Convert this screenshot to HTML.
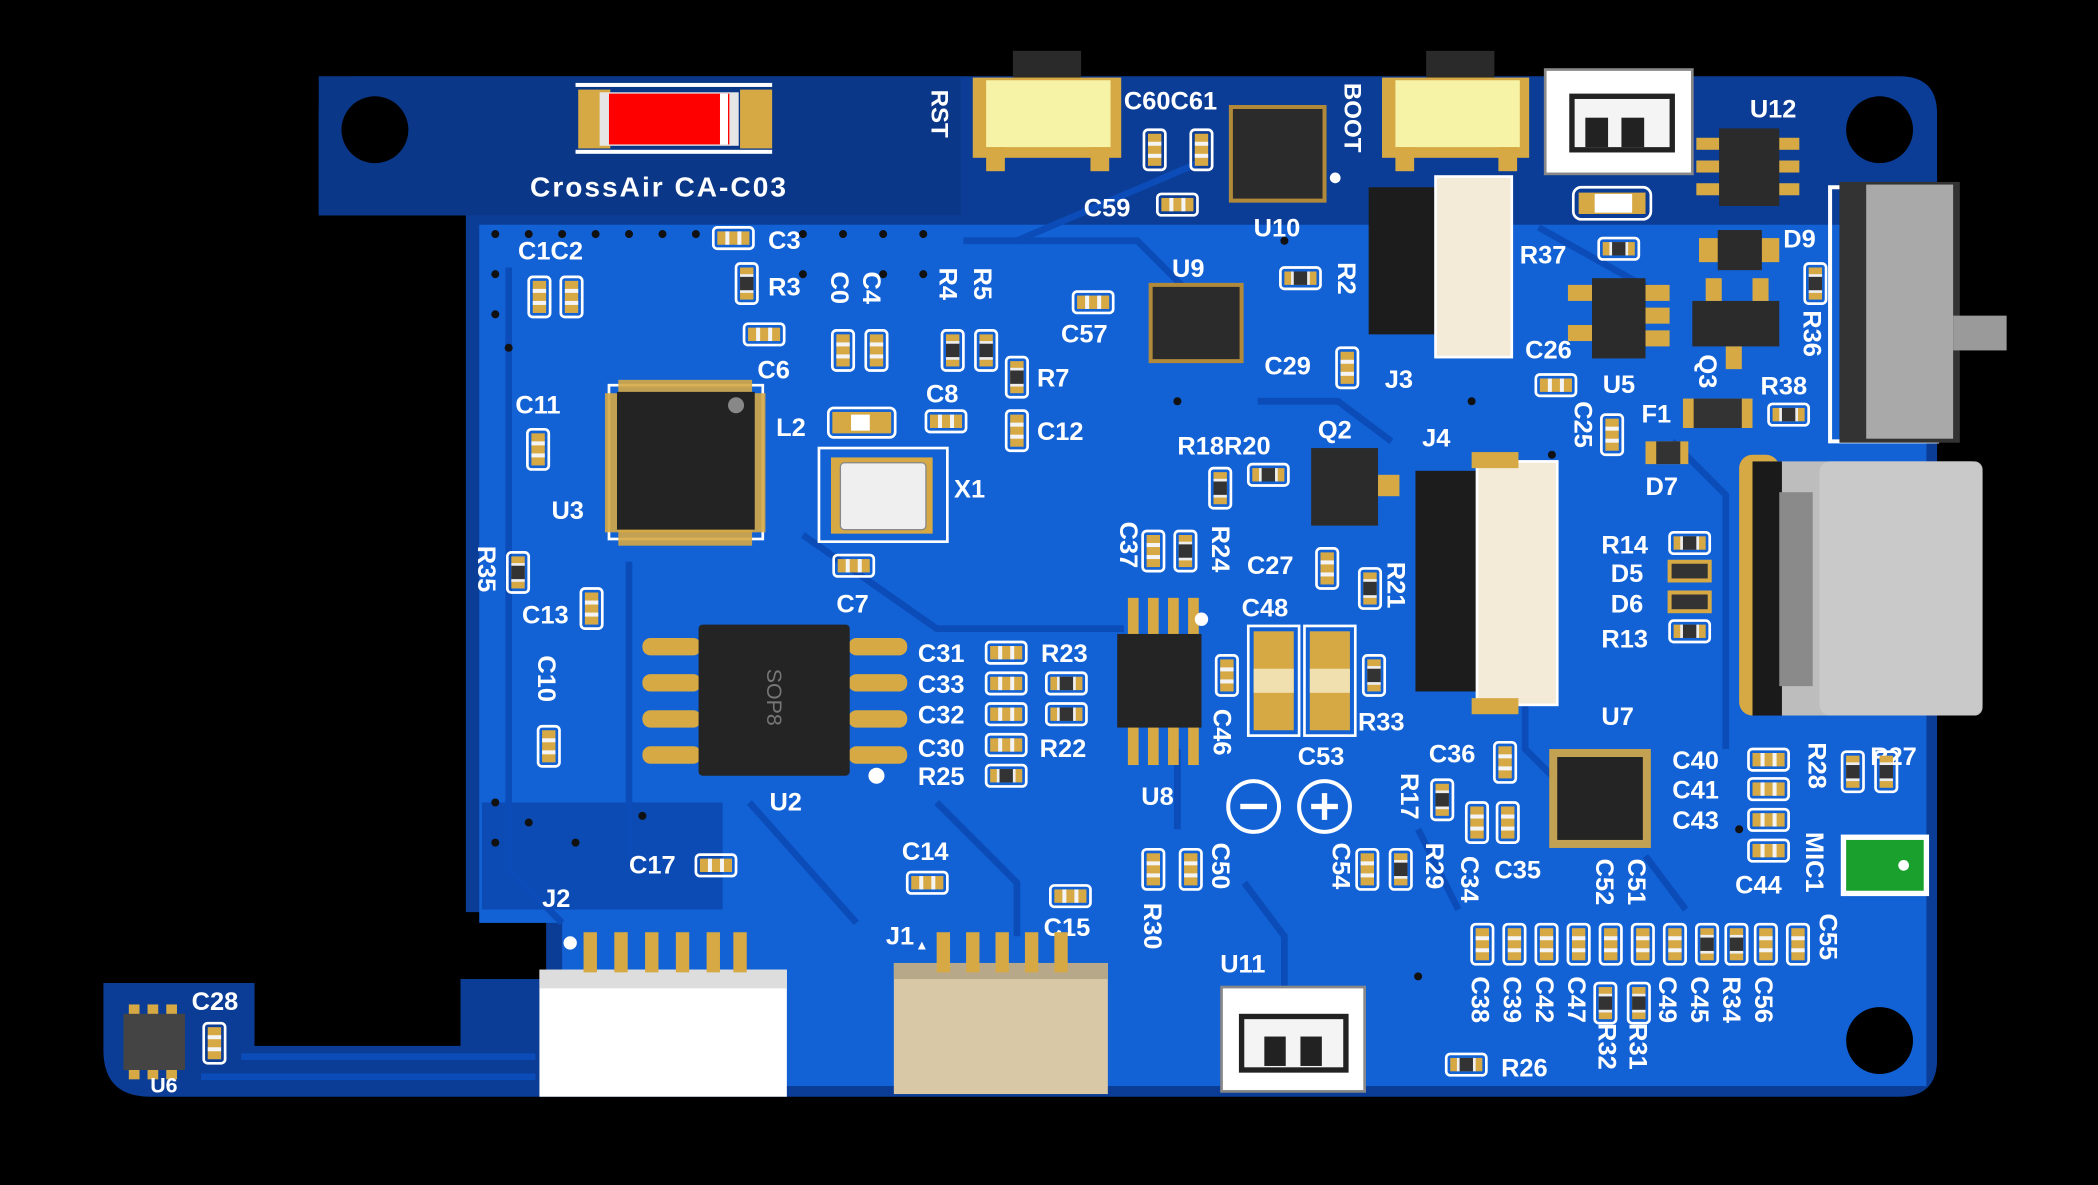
<!DOCTYPE html>
<html><head><meta charset="utf-8"><style>
html,body{margin:0;padding:0;background:#000;overflow:hidden}
svg{display:block}
text{font-family:"Liberation Sans",sans-serif;font-weight:bold;fill:#fff;font-size:19px}
</style></head><body>
<svg width="2098" height="1185" viewBox="0 0 1568 886" xmlns="http://www.w3.org/2000/svg">
<defs>
<g id="cv"><rect x="-8" y="-15" width="16" height="30" rx="3" fill="none" stroke="#fff" stroke-width="2"/><rect x="-5" y="-12" width="10" height="24" fill="#d6a944"/><rect x="-5" y="-6" width="10" height="3" fill="#f4f4f4"/><rect x="-5" y="3" width="10" height="3" fill="#f4f4f4"/></g>
<g id="rv"><rect x="-8" y="-15" width="16" height="30" rx="3" fill="none" stroke="#fff" stroke-width="2"/><rect x="-5" y="-12" width="10" height="24" fill="#d6a944"/><rect x="-5" y="-6" width="10" height="12" fill="#333"/><rect x="-5" y="-7" width="10" height="2" fill="#eee"/><rect x="-5" y="5" width="10" height="2" fill="#eee"/></g>
<g id="chip"><rect x="-1" y="-1" width="2" height="2" fill="#d6a944"/></g>
</defs>
<rect width="1568" height="886" fill="#000"/>
<!-- board -->
<path d="M266 57 H1420 Q1448 57 1448 85 V792 Q1448 820 1420 820 H112 Q77 820 77 785 V735 H190 V782 H344 V732 H408 V682 H348 V161 H238 V85 Q238 57 266 57 Z" fill="#0b3d96"/>
<path d="M358 168 H1440 V812 H420 V690 H358 Z" fill="#1262d6"/>
<rect x="238" y="57" width="480" height="104" fill="#0a3787"/>
<rect x="360" y="600" width="180" height="80" fill="#0c4bb3"/>
<!-- traces -->
<g fill="none" stroke="#0b4cb8" stroke-width="5">
<path d="M380 200 V650 L420 690"/><path d="M470 420 L470 640"/><path d="M600 400 L700 470 L840 470"/><path d="M700 600 L760 660 L760 700"/>
<path d="M720 180 L850 180 L900 230"/><path d="M940 300 L1000 300 L1040 330"/><path d="M1140 380 L1140 560 L1160 580"/><path d="M1250 330 L1290 370 V560"/>
<path d="M560 600 L640 690"/><path d="M880 560 L880 620"/><path d="M930 660 L960 700 V740"/><path d="M180 790 H400"/><path d="M150 805 H400"/>
<path d="M1060 620 L1090 680"/><path d="M1230 640 L1260 680"/><path d="M1360 420 L1360 520"/><path d="M760 180 L900 120"/><path d="M1150 170 L1240 220"/>
</g>
<!-- vias -->
<g fill="#111">
<circle cx="370" cy="175" r="3"/><circle cx="395" cy="175" r="3"/><circle cx="420" cy="175" r="3"/><circle cx="445" cy="175" r="3"/><circle cx="470" cy="175" r="3"/><circle cx="495" cy="175" r="3"/><circle cx="520" cy="175" r="3"/><circle cx="600" cy="175" r="3"/><circle cx="630" cy="175" r="3"/><circle cx="660" cy="175" r="3"/><circle cx="690" cy="175" r="3"/>
<circle cx="370" cy="205" r="3"/><circle cx="370" cy="235" r="3"/><circle cx="380" cy="260" r="3"/><circle cx="600" cy="205" r="3"/><circle cx="660" cy="205" r="3"/><circle cx="690" cy="205" r="3"/>
<circle cx="370" cy="600" r="3"/><circle cx="370" cy="630" r="3"/><circle cx="395" cy="615" r="3"/><circle cx="430" cy="630" r="3"/><circle cx="480" cy="610" r="3"/>
<circle cx="960" cy="180" r="3"/><circle cx="1100" cy="300" r="3"/><circle cx="1160" cy="340" r="3"/><circle cx="1300" cy="620" r="3"/><circle cx="1060" cy="730" r="3"/><circle cx="880" cy="300" r="3"/>
</g>
<!-- holes -->
<circle cx="280" cy="97" r="25" fill="#000"/><circle cx="1405" cy="97" r="25" fill="#000"/><circle cx="1405" cy="778" r="25" fill="#000"/>
<!-- fuse/led top -->
<rect x="430" y="62" width="147" height="3" fill="#fff"/><rect x="430" y="112" width="147" height="3" fill="#fff"/>
<rect x="432" y="67" width="24" height="44" fill="#d6a944"/><rect x="553" y="67" width="24" height="44" fill="#d6a944"/>
<rect x="448" y="69" width="104" height="40" fill="#e6e6e6"/><rect x="455" y="70" width="90" height="38" fill="#f00"/><rect x="538" y="70" width="6" height="38" fill="#fff"/>
<text x="396" y="147" style="font-size:21px;letter-spacing:1.5px">CrossAir CA-C03</text>
<!-- RST button -->
<rect x="757" y="38" width="51" height="22" fill="#2a2a2a"/>
<rect x="727" y="58" width="111" height="60" fill="#d6a944"/><rect x="737" y="60" width="93" height="50" fill="#f7f3a6"/>
<rect x="737" y="110" width="14" height="18" fill="#d6a944"/><rect x="815" y="110" width="14" height="18" fill="#d6a944"/>
<text transform="translate(696,67) rotate(90)" style="font-size:18px">RST</text>
<!-- BOOT -->
<rect x="1066" y="38" width="51" height="22" fill="#2a2a2a"/>
<rect x="1033" y="58" width="110" height="60" fill="#d6a944"/><rect x="1043" y="60" width="93" height="50" fill="#f7f3a6"/>
<rect x="1043" y="110" width="14" height="18" fill="#d6a944"/><rect x="1120" y="110" width="14" height="18" fill="#d6a944"/>
<text transform="translate(1005,62) rotate(90)" style="font-size:18px">BOOT</text>
<!-- C60 C61 U10 -->
<text x="840" y="82">C60C61</text>
<use href="#cv" transform="translate(863,112)"/><use href="#cv" transform="translate(898,112)"/>
<rect x="920" y="80" width="70" height="70" fill="#2b2b2b" stroke="#b08a3a" stroke-width="3"/>
<circle cx="998" cy="133" r="4" fill="#fff"/>
<text x="937" y="177">U10</text>
<text x="810" y="162">C59</text><use href="#cv" transform="translate(880,153) rotate(90)"/>
<!-- JST white top -->
<rect x="1155" y="52" width="110" height="78" fill="#fff" stroke="#888" stroke-width="2"/>
<rect x="1175" y="72" width="75" height="40" fill="#f4f4f4" stroke="#222" stroke-width="4"/>
<rect x="1185" y="88" width="17" height="22" fill="#222"/><rect x="1212" y="88" width="17" height="22" fill="#222"/>
<!-- U12 -->
<text x="1308" y="88">U12</text>
<rect x="1268" y="103" width="18" height="9" fill="#d6a944"/><rect x="1268" y="120" width="18" height="9" fill="#d6a944"/><rect x="1268" y="137" width="18" height="9" fill="#d6a944"/>
<rect x="1327" y="103" width="18" height="9" fill="#d6a944"/><rect x="1327" y="120" width="18" height="9" fill="#d6a944"/><rect x="1327" y="137" width="18" height="9" fill="#d6a944"/>
<rect x="1285" y="96" width="45" height="58" fill="#2b2b2b"/>
<!-- small LED -->
<rect x="1176" y="140" width="58" height="24" rx="6" fill="none" stroke="#fff" stroke-width="2"/><rect x="1180" y="144" width="50" height="16" fill="#d6a944"/><rect x="1192" y="145" width="28" height="14" fill="#fff"/>
<text x="1136" y="197">R37</text><use href="#rv" transform="translate(1210,186) rotate(90)"/>
<text x="1333" y="185">D9</text><rect x="1270" y="178" width="60" height="18" fill="#d6a944"/><rect x="1284" y="172" width="33" height="30" fill="#2b2b2b"/>
<!-- J3 -->
<rect x="1023" y="140" width="55" height="110" fill="#1c1c1c"/>
<rect x="1073" y="132" width="57" height="135" fill="#f3ead8" stroke="#fff" stroke-width="2"/>
<text x="1035" y="290">J3</text>
<text transform="translate(1000,196) rotate(90)">R2</text><use href="#rv" transform="translate(972,208) rotate(90)"/>
<!-- U9 -->
<text x="876" y="207">U9</text><rect x="860" y="213" width="68" height="57" fill="#2b2b2b" stroke="#b08a3a" stroke-width="3"/>
<text x="793" y="256">C57</text><use href="#cv" transform="translate(817,226) rotate(90)"/>
<text x="945" y="280">C29</text><use href="#cv" transform="translate(1007,275)"/>
<!-- U5 -->
<rect x="1172" y="213" width="20" height="12" fill="#d6a944"/><rect x="1172" y="243" width="20" height="12" fill="#d6a944"/>
<rect x="1228" y="213" width="20" height="12" fill="#d6a944"/><rect x="1228" y="230" width="20" height="12" fill="#d6a944"/><rect x="1228" y="247" width="20" height="12" fill="#d6a944"/>
<rect x="1190" y="208" width="40" height="60" fill="#2b2b2b"/>
<text x="1140" y="268">C26</text><use href="#cv" transform="translate(1163,288) rotate(90)"/>
<text x="1198" y="294">U5</text>
<!-- Q3 -->
<rect x="1265" y="225" width="65" height="34" fill="#2b2b2b"/><rect x="1275" y="208" width="12" height="17" fill="#d6a944"/><rect x="1310" y="208" width="12" height="17" fill="#d6a944"/><rect x="1290" y="259" width="12" height="17" fill="#d6a944"/>
<text transform="translate(1270,265) rotate(90)">Q3</text>
<use href="#rv" transform="translate(1357,212)"/><text transform="translate(1348,232) rotate(90)">R36</text>
<text x="1316" y="295">R38</text><use href="#rv" transform="translate(1337,310) rotate(90)"/>
<text x="1227" y="316">F1</text><rect x="1258" y="298" width="52" height="22" fill="#d6a944"/><rect x="1266" y="298" width="36" height="22" fill="#333"/>
<text transform="translate(1177,300) rotate(90)">C25</text><use href="#cv" transform="translate(1205,325)"/>
<text x="1230" y="370">D7</text><rect x="1230" y="330" width="32" height="17" fill="#d6a944"/><rect x="1238" y="330" width="18" height="17" fill="#333"/>
<!-- switch -->
<rect x="1368" y="140" width="80" height="190" fill="none" stroke="#fff" stroke-width="3"/>
<rect x="1375" y="136" width="90" height="195" fill="#333"/><rect x="1395" y="138" width="65" height="190" fill="#a9a9a9"/>
<rect x="1460" y="236" width="40" height="26" fill="#9a9a9a"/>
<!-- USB-C -->
<rect x="1300" y="340" width="30" height="195" rx="10" fill="#d6a944"/>
<rect x="1310" y="345" width="172" height="190" rx="6" fill="#bdbdbd"/>
<rect x="1310" y="345" width="22" height="190" fill="#1a1a1a"/>
<rect x="1330" y="368" width="25" height="145" fill="#8a8a8a"/>
<rect x="1360" y="345" width="122" height="190" rx="8" fill="#c9c9c9"/>
<!-- R14 D5 D6 R13 -->
<text x="1197" y="414">R14</text><text x="1204" y="435">D5</text><text x="1204" y="458">D6</text><text x="1197" y="484">R13</text>
<use href="#rv" transform="translate(1263,406) rotate(90)"/><rect x="1248" y="420" width="30" height="14" fill="#333" stroke="#d6a944" stroke-width="3"/><rect x="1248" y="443" width="30" height="14" fill="#333" stroke="#d6a944" stroke-width="3"/><use href="#rv" transform="translate(1263,472) rotate(90)"/>
<!-- J4 -->
<text x="1063" y="334">J4</text>
<rect x="1058" y="352" width="50" height="165" fill="#1c1c1c"/>
<rect x="1104" y="345" width="60" height="182" fill="#f3ead8" stroke="#fff" stroke-width="2"/>
<rect x="1100" y="338" width="35" height="12" fill="#d6a944"/><rect x="1100" y="522" width="35" height="12" fill="#d6a944"/>
<!-- Q2 -->
<text x="985" y="328">Q2</text><rect x="980" y="335" width="50" height="58" fill="#2b2b2b"/><rect x="1030" y="355" width="16" height="16" fill="#d6a944"/>
<text x="880" y="340">R18R20</text><use href="#rv" transform="translate(912,365)"/><use href="#rv" transform="translate(948,355) rotate(90)"/>
<!-- left side -->
<text x="387" y="194">C1C2</text><use href="#cv" transform="translate(403,222)"/><use href="#cv" transform="translate(427,222)"/>
<text x="574" y="186">C3</text><use href="#cv" transform="translate(548,178) rotate(90)"/>
<text x="574" y="221">R3</text><use href="#rv" transform="translate(558,212)"/>
<text x="566" y="283">C6</text><use href="#cv" transform="translate(571,250) rotate(90)"/>
<text transform="translate(621,203) rotate(90)">C0</text><text transform="translate(645,203) rotate(90)">C4</text>
<use href="#cv" transform="translate(630,262)"/><use href="#cv" transform="translate(655,262)"/>
<text transform="translate(702,200) rotate(90)">R4</text><text transform="translate(728,200) rotate(90)">R5</text>
<use href="#rv" transform="translate(712,262)"/><use href="#rv" transform="translate(737,262)"/>
<text x="775" y="289">R7</text><use href="#rv" transform="translate(760,282)"/>
<text x="775" y="329">C12</text><use href="#cv" transform="translate(760,322)"/>
<text x="692" y="301">C8</text><use href="#cv" transform="translate(707,315) rotate(90)"/>
<text x="580" y="326">L2</text><rect x="619" y="305" width="50" height="22" rx="4" fill="none" stroke="#fff" stroke-width="2"/><rect x="622" y="308" width="44" height="16" fill="#d6a944"/><rect x="636" y="310" width="14" height="12" fill="#fff"/>
<rect x="612" y="335" width="96" height="70" fill="none" stroke="#fff" stroke-width="2"/><rect x="621" y="342" width="76" height="57" fill="#d6a944"/><rect x="628" y="346" width="64" height="50" rx="3" fill="#efefef" stroke="#888"/>
<text x="713" y="372">X1</text>
<text x="625" y="458">C7</text><use href="#cv" transform="translate(638,423) rotate(90)"/>
<rect x="455" y="288" width="115" height="115" fill="none" stroke="#fff" stroke-width="2"/>
<rect x="452" y="294" width="120" height="104" fill="#d6a944" opacity=".9"/><rect x="462" y="284" width="100" height="124" fill="#d6a944" opacity=".9"/>
<rect x="461" y="293" width="103" height="103" fill="#232323"/><circle cx="550" cy="303" r="6" fill="#888"/>
<text x="412" y="388">U3</text>
<text x="385" y="309">C11</text><use href="#cv" transform="translate(402,336)"/>
<text transform="translate(357,408) rotate(90)">R35</text><use href="#rv" transform="translate(387,428)"/>
<text x="390" y="466">C13</text><use href="#cv" transform="translate(442,455)"/>
<text transform="translate(402,490) rotate(90)">C10</text><use href="#cv" transform="translate(410,558)"/>
<!-- U2 SOP8 -->
<g fill="#d6a944"><rect x="480" y="477" width="44" height="13" rx="6"/><rect x="480" y="504" width="44" height="13" rx="6"/><rect x="480" y="531" width="44" height="13" rx="6"/><rect x="480" y="558" width="44" height="13" rx="6"/>
<rect x="634" y="477" width="44" height="13" rx="6"/><rect x="634" y="504" width="44" height="13" rx="6"/><rect x="634" y="531" width="44" height="13" rx="6"/><rect x="634" y="558" width="44" height="13" rx="6"/></g>
<rect x="522" y="467" width="113" height="113" rx="3" fill="#242424"/>
<text transform="translate(573,500) rotate(90)" style="font-size:16px;font-weight:normal;fill:#777">SOP8</text>
<circle cx="655" cy="580" r="6" fill="#fff"/>
<text x="575" y="606">U2</text>
<text x="686" y="495">C31</text><text x="686" y="518">C33</text><text x="686" y="541">C32</text><text x="686" y="566">C30</text><text x="686" y="587">R25</text>
<use href="#cv" transform="translate(752,488) rotate(90)"/><use href="#cv" transform="translate(752,511) rotate(90)"/><use href="#cv" transform="translate(752,534) rotate(90)"/><use href="#cv" transform="translate(752,557) rotate(90)"/><use href="#rv" transform="translate(752,580) rotate(90)"/>
<text x="778" y="495">R23</text><text x="777" y="566">R22</text>
<use href="#rv" transform="translate(797,511) rotate(90)"/><use href="#rv" transform="translate(797,534) rotate(90)"/>
<!-- U8 -->
<g fill="#d6a944"><rect x="843" y="447" width="8" height="30"/><rect x="858" y="447" width="8" height="30"/><rect x="873" y="447" width="8" height="30"/><rect x="888" y="447" width="8" height="30"/>
<rect x="843" y="542" width="8" height="30"/><rect x="858" y="542" width="8" height="30"/><rect x="873" y="542" width="8" height="30"/><rect x="888" y="542" width="8" height="30"/></g>
<rect x="835" y="474" width="63" height="70" fill="#242424"/><circle cx="898" cy="463" r="5" fill="#fff"/>
<text x="853" y="602">U8</text>
<text transform="translate(837,390) rotate(90)">C37</text><use href="#cv" transform="translate(862,412)"/>
<text transform="translate(906,393) rotate(90)">R24</text><use href="#rv" transform="translate(886,412)"/>
<text x="932" y="429">C27</text><use href="#cv" transform="translate(992,425)"/>
<text transform="translate(1037,420) rotate(90)">R21</text><use href="#rv" transform="translate(1024,440)"/>
<text x="928" y="461">C48</text>
<rect x="933" y="468" width="38" height="82" fill="none" stroke="#fff" stroke-width="2"/><rect x="937" y="472" width="30" height="74" fill="#d6a944"/><rect x="937" y="500" width="30" height="18" fill="#f0e0b0"/>
<rect x="975" y="468" width="38" height="82" fill="none" stroke="#fff" stroke-width="2"/><rect x="979" y="472" width="30" height="74" fill="#d6a944"/><rect x="979" y="500" width="30" height="18" fill="#f0e0b0"/>
<text transform="translate(907,530) rotate(90)">C46</text><use href="#cv" transform="translate(917,505)"/>
<text x="1015" y="546">R33</text><use href="#rv" transform="translate(1027,505)"/>
<text x="970" y="572">C53</text>
<circle cx="937" cy="603" r="19" fill="none" stroke="#fff" stroke-width="3"/><rect x="927" y="601" width="20" height="4" fill="#fff"/>
<circle cx="990" cy="603" r="19" fill="none" stroke="#fff" stroke-width="3"/><rect x="980" y="601" width="20" height="4" fill="#fff"/><rect x="988" y="593" width="4" height="20" fill="#fff"/>
<!-- U7 area -->
<text x="1068" y="570">C36</text><use href="#cv" transform="translate(1125,570)"/>
<text transform="translate(1047,578) rotate(90)">R17</text><use href="#rv" transform="translate(1078,598)"/>
<use href="#cv" transform="translate(1104,615)"/><use href="#cv" transform="translate(1127,615)"/>
<text transform="translate(1092,640) rotate(90)">C34</text><text x="1117" y="657">C35</text>
<text x="1197" y="542">U7</text>
<rect x="1158" y="560" width="76" height="74" fill="#d6a944" opacity=".9"/><rect x="1164" y="566" width="64" height="62" fill="#242424"/>
<text transform="translate(1193,642) rotate(90)">C52</text><text transform="translate(1217,642) rotate(90)">C51</text>
<text x="1250" y="575">C40</text><text x="1250" y="597">C41</text><text x="1250" y="620">C43</text><text x="1297" y="668">C44</text>
<use href="#cv" transform="translate(1322,568) rotate(90)"/><use href="#cv" transform="translate(1322,590) rotate(90)"/><use href="#cv" transform="translate(1322,613) rotate(90)"/><use href="#cv" transform="translate(1322,636) rotate(90)"/>
<text transform="translate(1352,555) rotate(90)">R28</text><text x="1398" y="572">R27</text>
<use href="#rv" transform="translate(1385,577)"/><use href="#rv" transform="translate(1410,577)"/>
<text transform="translate(1350,622) rotate(90)">MIC1</text>
<rect x="1376" y="624" width="66" height="46" fill="#fff"/><rect x="1380" y="628" width="58" height="38" fill="#1aa02c"/><circle cx="1423" cy="647" r="4" fill="#fff"/>
<text transform="translate(1360,683) rotate(90)">C55</text>
<use href="#cv" transform="translate(1108,706)"/><use href="#cv" transform="translate(1132,706)"/><use href="#cv" transform="translate(1156,706)"/><use href="#cv" transform="translate(1180,706)"/><use href="#cv" transform="translate(1204,706)"/><use href="#cv" transform="translate(1228,706)"/><use href="#cv" transform="translate(1252,706)"/><use href="#rv" transform="translate(1276,706)"/><use href="#rv" transform="translate(1298,706)"/><use href="#cv" transform="translate(1320,706)"/><use href="#cv" transform="translate(1344,706)"/>
<use href="#rv" transform="translate(1200,750)"/><use href="#rv" transform="translate(1225,750)"/>
<text transform="translate(1100,730) rotate(90)">C38</text><text transform="translate(1124,730) rotate(90)">C39</text><text transform="translate(1148,730) rotate(90)">C42</text><text transform="translate(1172,730) rotate(90)">C47</text>
<text transform="translate(1195,765) rotate(90)">R32</text><text transform="translate(1218,765) rotate(90)">R31</text>
<text transform="translate(1240,730) rotate(90)">C49</text><text transform="translate(1264,730) rotate(90)">C45</text><text transform="translate(1288,730) rotate(90)">R34</text><text transform="translate(1312,730) rotate(90)">C56</text>
<text x="1122" y="805">R26</text><use href="#rv" transform="translate(1096,796) rotate(90)"/>
<!-- U11 -->
<text x="912" y="727">U11</text>
<rect x="913" y="738" width="107" height="78" fill="#fff" stroke="#888" stroke-width="2"/>
<rect x="928" y="760" width="78" height="40" fill="#f4f4f4" stroke="#222" stroke-width="4"/><rect x="945" y="775" width="16" height="22" fill="#222"/><rect x="972" y="775" width="16" height="22" fill="#222"/>
<text transform="translate(906,630) rotate(90)">C50</text><use href="#cv" transform="translate(862,650)"/><use href="#cv" transform="translate(890,650)"/>
<text transform="translate(855,675) rotate(90)">R30</text>
<text transform="translate(996,630) rotate(90)">C54</text><text transform="translate(1066,630) rotate(90)">R29</text>
<use href="#cv" transform="translate(1022,650)"/><use href="#rv" transform="translate(1047,650)"/>
<!-- bottom connectors -->
<text x="674" y="643">C14</text><use href="#cv" transform="translate(693,660) rotate(90)"/>
<text x="780" y="700">C15</text><use href="#cv" transform="translate(800,670) rotate(90)"/>
<text x="470" y="653">C17</text><use href="#cv" transform="translate(535,647) rotate(90)"/>
<text x="662" y="706">J1</text><text x="684" y="710" style="font-size:10px">▲</text>
<rect x="668" y="720" width="160" height="98" fill="#d9c8a6"/><rect x="668" y="720" width="160" height="12" fill="#b7a88a"/>
<g fill="#d6a944"><rect x="700" y="697" width="10" height="30"/><rect x="722" y="697" width="10" height="30"/><rect x="744" y="697" width="10" height="30"/><rect x="766" y="697" width="10" height="30"/><rect x="788" y="697" width="10" height="30"/></g>
<text x="405" y="678">J2</text><circle cx="426" cy="705" r="5" fill="#fff"/>
<rect x="403" y="725" width="185" height="95" fill="#fff"/><rect x="403" y="725" width="185" height="14" fill="#ddd"/>
<g fill="#d6a944"><rect x="436" y="697" width="10" height="30"/><rect x="459" y="697" width="10" height="30"/><rect x="482" y="697" width="10" height="30"/><rect x="505" y="697" width="10" height="30"/><rect x="528" y="697" width="10" height="30"/><rect x="548" y="697" width="10" height="30"/></g>
<!-- U6 -->
<g fill="#d6a944"><rect x="96" y="751" width="8" height="9"/><rect x="110" y="751" width="8" height="9"/><rect x="124" y="751" width="8" height="9"/><rect x="96" y="798" width="8" height="9"/><rect x="110" y="798" width="8" height="9"/><rect x="124" y="798" width="8" height="9"/></g>
<rect x="92" y="758" width="46" height="42" fill="#444"/>
<text x="143" y="755">C28</text><use href="#cv" transform="translate(160,780)"/>
<text x="112" y="817" style="font-size:16px">U6</text>
</svg>
</body></html>
